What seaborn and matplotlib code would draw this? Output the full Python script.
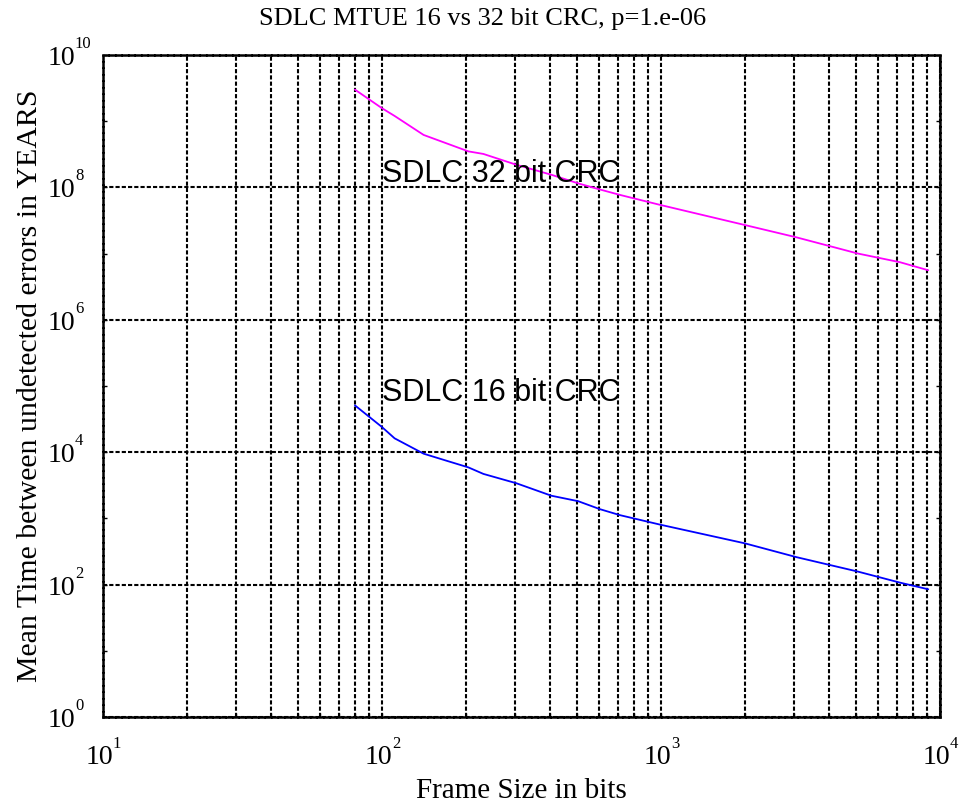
"""SDLC mean time between undetected errors, 16 vs 32 bit CRC."""
import numpy as np
import pandas as pd
import seaborn as sns
import matplotlib.pyplot as plt
from matplotlib.ticker import LogLocator, FixedLocator, NullFormatter
from matplotlib.transforms import offset_copy

# values
frame_bits = [80, 100, 111, 141, 171, 204, 231, 303, 405, 505, 604, 713, 1000,
              2000, 3060, 5090, 7200, 9080]
mtue_32 = [3.0e9, 1.57e9, 1.2e9, 6.2e8, 4.6e8, 3.5e8, 3.2e8, 2.2e8, 1.55e8,
           1.15e8, 9.3e7, 7.7e7, 5.4e7, 2.7e7, 1.76e7, 1.0e7, 7.4e6, 5.6e6]
mtue_16 = [5.1e4, 2.4e4, 1.62e4, 9.5e3, 7.4e3, 5.9e3, 4.7e3, 3.4e3, 2.2e3,
           1.82e3, 1.38e3, 1.12e3, 8.0e2, 4.2e2, 2.6e2, 1.57e2, 1.07e2, 8.5e1]
series_names = ["SDLC 32 bit CRC", "SDLC 16 bit CRC"]
series_colors = ["#ff00ff", "#0000ff"]
y_ticks = [1e0, 1e2, 1e4, 1e6, 1e8, 1e10]
x_ticks = [1e1, 1e2, 1e3, 1e4]

df = pd.DataFrame({
    "bits": frame_bits * 2,
    "mtue": mtue_32 + mtue_16,
    "crc": [series_names[0]] * len(frame_bits) + [series_names[1]] * len(frame_bits),
})

sns.set_theme(style="white")
plt.rcParams["font.family"] = ["Liberation Serif", "DejaVu Serif"]
plt.rcParams["text.color"] = "black"
plt.rcParams["axes.labelcolor"] = "black"
plt.rcParams["xtick.color"] = "black"
plt.rcParams["ytick.color"] = "black"

fig = plt.figure(figsize=(9.66, 8.05), dpi=100)
ax = fig.add_axes([0.1066, 0.1093, 0.8664, 0.8224])

sns.lineplot(data=df, x="bits", y="mtue", hue="crc", palette=series_colors,
             hue_order=series_names, legend=False, linewidth=1.3, ax=ax)

ax.set_xscale("log")
ax.set_yscale("log")
ax.set_xlim(1e1, 1e4)
ax.set_ylim(1e0, 1e10)

ax.xaxis.set_major_locator(FixedLocator(x_ticks))
ax.xaxis.set_minor_locator(LogLocator(base=10, subs=np.arange(2, 10)))
ax.xaxis.set_minor_formatter(NullFormatter())
ax.yaxis.set_major_locator(FixedLocator(y_ticks))
ax.yaxis.set_minor_locator(FixedLocator([1e1, 1e3, 1e5, 1e7, 1e9]))
ax.yaxis.set_minor_formatter(NullFormatter())
ax.xaxis.set_major_formatter(NullFormatter())
ax.yaxis.set_major_formatter(NullFormatter())

# dotted black grid, every minor decade line on x, even decades on y
grid_style = dict(color="black", linestyle=(0, (2, 1)), linewidth=1.5)
ax.grid(True, which="major", axis="both", **grid_style)
ax.grid(True, which="minor", axis="x", **grid_style)
ax.tick_params(axis="both", which="both", direction="in", length=3, width=1,
               top=False, right=True, left=True, bottom=True)
for sp in ax.spines.values():
    sp.set_color("black")
    sp.set_linewidth(1.8)
    sp.set_linestyle((0, (2, 0.6)))

# tick labels drawn as "10" with a small raised exponent
xt = ax.get_xaxis_transform()
for v in x_ticks:
    e = int(np.log10(v))
    ax.text(v, 0, "10", fontsize=20, ha="right", va="baseline",
            transform=offset_copy(xt, fig, x=10, y=-47, units="dots"))
    ax.text(v, 0, str(e), fontsize=12, ha="left", va="baseline",
            transform=offset_copy(xt, fig, x=10, y=-31, units="dots"))
yt = ax.get_yaxis_transform()
for v in y_ticks:
    e = int(np.log10(v))
    ax.text(0, v, "10", fontsize=20, ha="right", va="baseline",
            transform=offset_copy(yt, fig, x=-28, y=-10, units="dots"))
    ax.text(0, v, str(e), fontsize=12, ha="left", va="baseline",
            transform=offset_copy(yt, fig, x=-28, y=7, units="dots"))

ax.set_xlabel("Frame Size in bits", fontsize=21)
ax.xaxis.set_label_coords(0.5, -0.092)
ax.set_ylabel("Mean Time between undetected errors in YEARS", fontsize=21.5, va="center")
ax.yaxis.set_label_coords(-0.087, 0.5)
fig.text(0.5, 1 - 25 / 805, "SDLC MTUE 16 vs 32 bit CRC, p=1.e-06", fontsize=19,
         ha="center", va="baseline")

ax.text(100, 1.2e8, series_names[0], fontsize=22, va="baseline", ha="left",
        family=["Liberation Sans", "DejaVu Sans"])
ax.text(100, 6.0e4, series_names[1], fontsize=22, va="baseline", ha="left",
        family=["Liberation Sans", "DejaVu Sans"])

fig.savefig("out.png", dpi=100)
